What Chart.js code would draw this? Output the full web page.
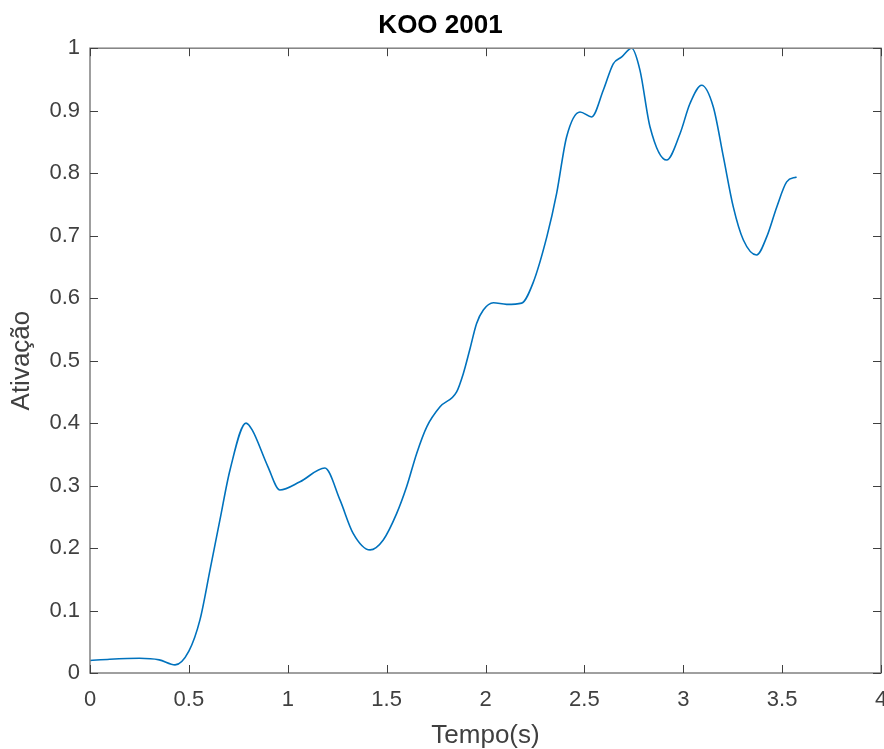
<!DOCTYPE html>
<html>
<head>
<meta charset="utf-8">
<script src="https://cdn.jsdelivr.net/npm/chart.js@4/dist/chart.umd.min.js"></script>
<style>
  html, body { margin: 0; padding: 0; background: #fff; }
  #wrap { width: 884px; height: 749px; }
</style>
</head>
<body>
<div id="wrap"><canvas id="lineChart"></canvas></div>
<script>
// tempo (s) e ativacao
var tempo = [0, 0.1, 0.25, 0.35, 0.43, 0.5, 0.556, 0.607, 0.657, 0.708, 0.789, 0.82, 0.9, 0.96, 1.062, 1.188,
  1.264, 1.33, 1.416, 1.483, 1.551, 1.601, 1.652, 1.703, 1.77, 1.854, 1.888, 1.92, 1.955, 1.989, 2.04,
  2.107, 2.183, 2.24, 2.31, 2.36, 2.41, 2.478, 2.537, 2.596, 2.646, 2.689, 2.739, 2.781, 2.832, 2.916,
  2.984, 3.034, 3.093, 3.152, 3.203, 3.253, 3.304, 3.371, 3.422, 3.473, 3.523, 3.573];
var ativacao = [0.02, 0.022, 0.0235, 0.021, 0.013, 0.035, 0.085, 0.165, 0.245, 0.325, 0.40, 0.389, 0.33, 0.293,
  0.306, 0.328, 0.277, 0.224, 0.197, 0.213, 0.2555, 0.298, 0.3515, 0.394, 0.426, 0.45, 0.4795, 0.517,
  0.5595, 0.581, 0.5925, 0.59, 0.592, 0.624, 0.698, 0.768, 0.858, 0.898, 0.89, 0.933, 0.975, 0.986, 1.0,
  0.965, 0.874, 0.821, 0.8635, 0.9115, 0.9408, 0.906, 0.826, 0.746, 0.693, 0.669, 0.698, 0.746, 0.786,
  0.794];
var xTicks = [0, 0.5, 1, 1.5, 2, 2.5, 3, 3.5, 4];
var yTicks = [0, 0.1, 0.2, 0.3, 0.4, 0.5, 0.6, 0.7, 0.8, 0.9, 1];

var pontos = tempo.map(function (t, i) { return {x: t, y: ativacao[i]}; });

// caixa estilo matlab com ticks para dentro
var boxPlugin = {
  id: 'box',
  afterDatasetsDraw: function (chart) {
    var c = chart.ctx, a = chart.chartArea;
    var sx = chart.scales.x, sy = chart.scales.y;
    c.save();
    c.strokeStyle = '#808080';
    c.lineWidth = 1.5;
    c.strokeRect(a.left, a.top, a.right - a.left, a.bottom - a.top);
    c.strokeStyle = '#404040';
    c.lineWidth = 1;
    c.beginPath();
    xTicks.forEach(function (v) {
      var px = Math.round(sx.getPixelForValue(v)) + 0.5;
      c.moveTo(px, a.bottom); c.lineTo(px, a.bottom - 8);
      c.moveTo(px, a.top); c.lineTo(px, a.top + 8);
    });
    yTicks.forEach(function (v) {
      var py = Math.round(sy.getPixelForValue(v)) + 0.5;
      c.moveTo(a.left, py); c.lineTo(a.left + 8, py);
      c.moveTo(a.right, py); c.lineTo(a.right - 8, py);
    });
    c.stroke();
    c.restore();
  }
};

var ctx = document.getElementById('lineChart').getContext('2d');
var myChart = new Chart(ctx, {
  type: 'line',
  data: {
    datasets: [{
      data: pontos,
      borderColor: '#0072BD',
      borderWidth: 1.6,
      pointRadius: 0,
      fill: false,
      cubicInterpolationMode: 'monotone'
    }]
  },
  options: {
    responsive: true,
    maintainAspectRatio: false,
    animation: false,
    layout: { padding: { left: 0, right: 3, top: 0, bottom: 0 } },
    plugins: {
      legend: { display: false },
      tooltip: { enabled: false },
      title: {
        display: true,
        text: 'KOO 2001',
        color: '#000',
        font: { family: 'Liberation Sans', size: 26, weight: 'bold' },
        padding: { top: 10, bottom: 7 }
      }
    },
    scales: {
      x: {
        type: 'linear',
        min: 0, max: 4,
        afterBuildTicks: function (s) { s.ticks = xTicks.map(function (v) { return {value: v}; }); },
        afterFit: function (s) { s.height = 76; s.paddingRight = 0; s.paddingLeft = 0; },
        grid: { display: false, drawTicks: false },
        border: { display: false },
        ticks: {
          color: '#404040',
          padding: 14,
          maxRotation: 0,
          font: { family: 'Liberation Sans', size: 22 },
          callback: function (v) { return String(v); }
        },
        title: {
          display: true,
          text: 'Tempo(s)',
          color: '#404040',
          font: { family: 'Liberation Sans', size: 26 },
          padding: { top: 0, bottom: -2 }
        }
      },
      y: {
        min: 0, max: 1,
        afterBuildTicks: function (s) { s.ticks = yTicks.map(function (v) { return {value: v}; }); },
        afterFit: function (s) { s.width = 90; s.paddingTop = 0; s.paddingBottom = 0; },
        grid: { display: false, drawTicks: false },
        border: { display: false },
        ticks: {
          color: '#404040',
          padding: 10,
          font: { family: 'Liberation Sans', size: 22 },
          callback: function (v) { return String(Math.round(v * 10) / 10); }
        },
        title: {
          display: true,
          text: 'Ativação',
          color: '#404040',
          font: { family: 'Liberation Sans', size: 26 },
          padding: { top: 6, bottom: 0 }
        }
      }
    }
  },
  plugins: [boxPlugin]
});
</script>
</body>
</html>
